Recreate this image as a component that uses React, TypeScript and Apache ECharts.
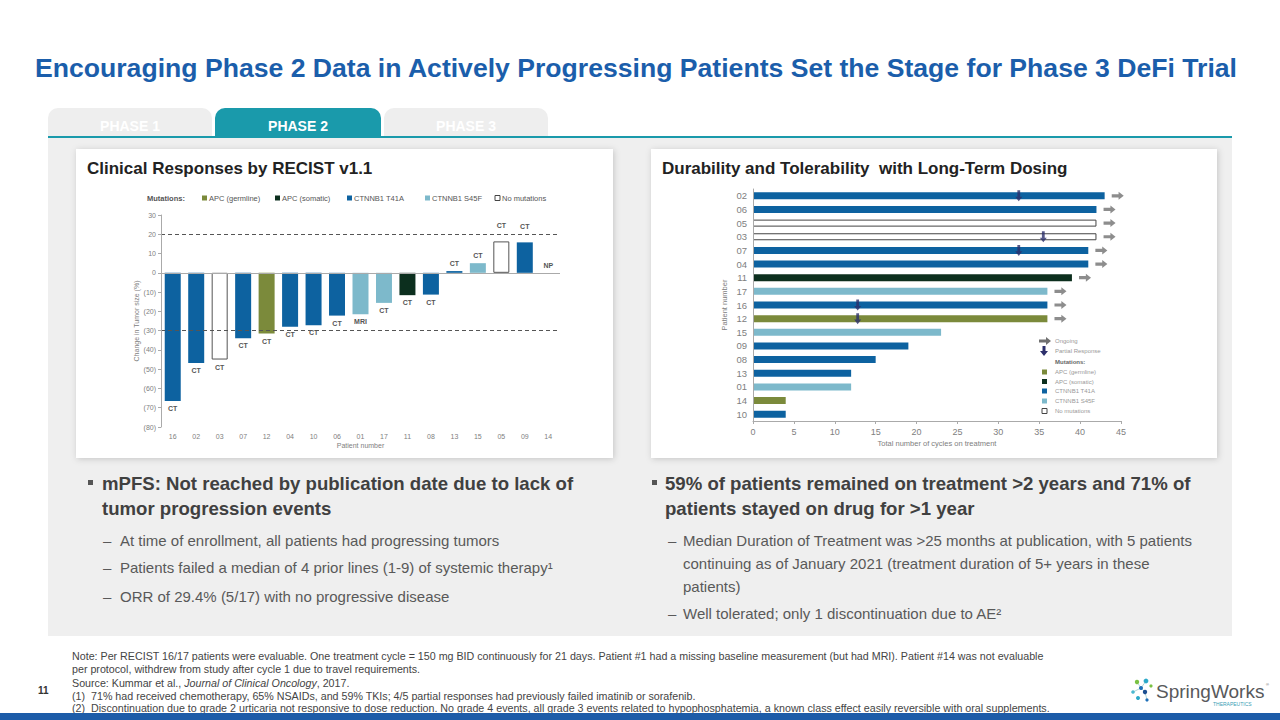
import React, { useEffect, useRef } from "react";
import * as echarts from "echarts";

// ---------- Data ----------
const waterfallPatients = ["16", "02", "03", "07", "12", "04", "10", "06", "01", "17", "11", "08", "13", "15", "05", "09", "14"];
const waterfallChange = [-66.5, -46.8, -45, -34, -31.5, -28, -27.2, -22.2, -21.5, -15.6, -11.6, -11.3, 0.9, 5, 16.3, 15.8, 0];
const waterfallMutation = ["T41A", "T41A", "None", "T41A", "Germline", "T41A", "T41A", "T41A", "S45F", "S45F", "Somatic", "T41A", "T41A", "S45F", "None", "T41A", "NA"];
const waterfallScan = ["CT", "CT", "CT", "CT", "CT", "CT", "CT", "CT", "MRI", "CT", "CT", "CT", "CT", "CT", "CT", "CT", "NP"];
const waterfallRefLines = [20, -30];

const durationPatients = ["02", "06", "05", "03", "07", "04", "11", "17", "16", "12", "15", "09", "08", "13", "01", "14", "10"];
const durationCycles = [43, 42, 42, 42, 41, 41, 39, 36, 36, 36, 23, 19, 15, 12, 12, 4, 4];
const durationMutation = ["T41A", "T41A", "None", "None", "T41A", "T41A", "Somatic", "S45F", "T41A", "Germline", "S45F", "T41A", "T41A", "T41A", "S45F", "Germline", "T41A"];
const durationOngoing = [true, true, true, true, true, true, true, true, true, true, false, false, false, false, false, false, false];
const durationPartialResponse: (number | null)[] = [32.5, null, null, 35.5, 32.5, null, null, null, 12.8, 12.8, null, null, null, null, null, null, null];

const mutationLegend = [
  { key: "Germline", name: "APC (germline)" },
  { key: "Somatic", name: "APC (somatic)" },
  { key: "T41A", name: "CTNNB1 T41A" },
  { key: "S45F", name: "CTNNB1 S45F" },
  { key: "None", name: "No mutations" },
];

const COLORS: Record<string, string> = {
  T41A: "#0d62a0",
  S45F: "#7db9cb",
  Germline: "#7b8a3b",
  Somatic: "#0c2f1e",
  None: "#ffffff",
  NA: "rgba(0,0,0,0)",
};

const FONT = "'Liberation Sans', Arial, Helvetica, sans-serif";
const TEAL = "#1a9aab";

const txt = (x: number, y: number, text: string, s: any = {}) => ({
  type: "text",
  x,
  y,
  silent: true,
  z: 10,
  style: { text, fontFamily: FONT, fontSize: 12, fill: "#444", align: "left", verticalAlign: "middle", ...s },
});

export default function App() {
  const ref = useRef<HTMLDivElement>(null);

  useEffect(() => {
    document.body.style.margin = "0";
    const chart = echarts.init(ref.current!, undefined, { renderer: "svg" });

    const graphics: any[] = [];
    // Title
    graphics.push(txt(636, 68, "Encouraging Phase 2 Data in Actively Progressing Patients Set the Stage for Phase 3 DeFi Trial", {
      fontSize: 26.6, fontWeight: "bold", fill: "#1b5eab", align: "center",
    }));
    // Tabs
    const tabs = [
      { x: 48, w: 164, label: "PHASE 1", fill: "#eeeeee" },
      { x: 215, w: 166, label: "PHASE 2", fill: TEAL },
      { x: 384, w: 164, label: "PHASE 3", fill: "#eeeeee" },
    ];
    tabs.forEach((t) => {
      graphics.push({ type: "rect", silent: true, z: 0, shape: { x: t.x, y: 108, width: t.w, height: 30, r: [10, 10, 0, 0] }, style: { fill: t.fill } });
      graphics.push(txt(t.x + t.w / 2, 126, t.label, { fontSize: 14, fontWeight: "bold", fill: "#ffffff", align: "center" }));
    });
    // Panel
    graphics.push({ type: "rect", silent: true, z: 0, shape: { x: 48, y: 137, width: 1184, height: 499 }, style: { fill: "#efefef" } });
    graphics.push({ type: "rect", silent: true, z: 1, shape: { x: 48, y: 136, width: 1184, height: 2 }, style: { fill: TEAL } });
    // Cards
    [
      { x: 76, w: 537 },
      { x: 651, w: 566 },
    ].forEach((c) => {
      graphics.push({
        type: "rect", silent: true, z: 1,
        shape: { x: c.x, y: 149, width: c.w, height: 309 },
        style: { fill: "#ffffff", shadowBlur: 6, shadowColor: "rgba(0,0,0,0.18)", shadowOffsetX: 1, shadowOffsetY: 1 },
      });
    });
    graphics.push(txt(87, 168, "Clinical Responses by RECIST v1.1", { fontSize: 17, fontWeight: "bold", fill: "#222" }));
    graphics.push(txt(662, 168, "Durability and Tolerability  with Long-Term Dosing", { fontSize: 17, fontWeight: "bold", fill: "#222" }));

    // Left legend
    graphics.push(txt(147, 198, "Mutations:", { fontSize: 7.5, fontWeight: "bold", fill: "#555" }));
    const lx = [202, 275, 347, 425, 495];
    mutationLegend.forEach((m, i) => {
      graphics.push({
        type: "rect", silent: true, z: 10,
        shape: { x: lx[i], y: 195.5, width: 5, height: 5 },
        style: { fill: COLORS[m.key], stroke: m.key === "None" ? "#444" : null, lineWidth: 1 },
      });
      graphics.push(txt(lx[i] + 7, 198, m.name, { fontSize: 7.5, fill: "#555" }));
    });

    // Right legend
    graphics.push({
      type: "polygon", silent: true, z: 10,
      shape: { points: [[1039, 339.5], [1046, 339.5], [1046, 337], [1051, 341], [1046, 345], [1046, 342.5], [1039, 342.5]] },
      style: { fill: "#707070" },
    });
    graphics.push(txt(1055, 341, "Ongoing", { fontSize: 6, fill: "#999" }));
    graphics.push({
      type: "polygon", silent: true, z: 10,
      shape: { points: [[1042.5, 346], [1045.5, 346], [1045.5, 351], [1048, 351], [1044, 356], [1040, 351], [1042.5, 351]] },
      style: { fill: "#2c2f6b" },
    });
    graphics.push(txt(1055, 351, "Partial Response", { fontSize: 6, fill: "#999" }));
    graphics.push(txt(1055, 362, "Mutations:", { fontSize: 6, fontWeight: "bold", fill: "#666" }));
    const ly = [372, 381.5, 391, 401, 411];
    mutationLegend.forEach((m, i) => {
      graphics.push({
        type: "rect", silent: true, z: 10,
        shape: { x: 1042, y: ly[i] - 2.5, width: 5, height: 5 },
        style: { fill: COLORS[m.key], stroke: m.key === "None" ? "#444" : null, lineWidth: 1 },
      });
      graphics.push(txt(1055, ly[i], m.name, { fontSize: 6, fill: "#999" }));
    });

    // Bullets
    const boldS = { fontSize: 18.6, fontWeight: "bold", fill: "#404040" };
    const subS = { fontSize: 15, fill: "#595959" };
    graphics.push({ type: "rect", silent: true, z: 10, shape: { x: 88, y: 480, width: 5, height: 5 }, style: { fill: "#555" } });
    graphics.push(txt(102, 483, "mPFS: Not reached by publication date due to lack of", boldS));
    graphics.push(txt(102, 508, "tumor progression events", boldS));
    graphics.push(txt(103, 540, "–", subS));
    graphics.push(txt(120, 540, "At time of enrollment, all patients had progressing tumors", subS));
    graphics.push(txt(103, 567, "–", subS));
    graphics.push(txt(120, 567, "Patients failed a median of 4 prior lines (1-9) of systemic therapy¹", subS));
    graphics.push(txt(103, 596, "–", subS));
    graphics.push(txt(120, 596, "ORR of 29.4% (5/17) with no progressive disease", subS));

    graphics.push({ type: "rect", silent: true, z: 10, shape: { x: 652, y: 480, width: 5, height: 5 }, style: { fill: "#555" } });
    graphics.push(txt(665, 483, "59% of patients remained on treatment >2 years and 71% of", boldS));
    graphics.push(txt(665, 508, "patients stayed on drug for >1 year", boldS));
    graphics.push(txt(668, 540, "–", subS));
    graphics.push(txt(683, 540, "Median Duration of Treatment was >25 months at publication, with 5 patients", subS));
    graphics.push(txt(683, 563, "continuing as of January 2021 (treatment duration of 5+ years in these", subS));
    graphics.push(txt(683, 586, "patients)", subS));
    graphics.push(txt(668, 613, "–", subS));
    graphics.push(txt(683, 613, "Well tolerated; only 1 discontinuation due to AE²", subS));

    // Footnotes
    const fS = { fontSize: 10.7, fill: "#444" };
    graphics.push(txt(72, 656, "Note: Per RECIST 16/17 patients were evaluable. One treatment cycle = 150 mg BID continuously for 21 days. Patient #1 had a missing baseline measurement (but had MRI). Patient #14 was not evaluable", fS));
    graphics.push(txt(72, 669, "per protocol, withdrew from study after cycle 1 due to travel requirements.", fS));
    graphics.push({
      type: "text", x: 72, y: 683, silent: true, z: 10,
      style: {
        text: "{a|Source: Kummar et al., }{i|Journal of Clinical Oncology}{a|, 2017.}",
        verticalAlign: "middle",
        rich: {
          a: { fontFamily: FONT, fontSize: 10.7, fill: "#444", color: "#444" },
          i: { fontFamily: FONT, fontSize: 10.7, fill: "#444", color: "#444", fontStyle: "italic" },
        },
      },
    });
    graphics.push(txt(72, 696, "(1)  71% had received chemotherapy, 65% NSAIDs, and 59% TKIs; 4/5 partial responses had previously failed imatinib or sorafenib.", fS));
    graphics.push(txt(72, 708, "(2)  Discontinuation due to grade 2 urticaria not responsive to dose reduction. No grade 4 events, all grade 3 events related to hypophosphatemia, a known class effect easily reversible with oral supplements.", fS));
    graphics.push(txt(38, 690, "11", { fontSize: 10, fontWeight: "bold", fill: "#333" }));

    // Bottom bar
    graphics.push({ type: "rect", silent: true, z: 10, shape: { x: 0, y: 713, width: 1280, height: 7 }, style: { fill: "#1d5ca8" } });

    // Logo
    const dots = [
      [1137, 682, 2.2, "#7ac143"], [1146, 681, 2.4, "#2aa9c9"], [1141, 688, 2.0, "#1d6fb8"],
      [1133, 692, 1.8, "#4bb8d0"], [1145, 692, 2.2, "#1d4f91"], [1151, 686, 1.6, "#7ac143"],
      [1138, 698, 2.0, "#2aa9c9"], [1147, 700, 1.6, "#1d6fb8"],
    ];
    graphics.push({ type: "polyline", silent: true, z: 10, shape: { points: [[1137, 682], [1141, 688], [1145, 692], [1147, 700]] }, style: { stroke: "#9cc", lineWidth: 0.8, fill: null } });
    graphics.push({ type: "polyline", silent: true, z: 10, shape: { points: [[1146, 681], [1141, 688], [1133, 692]] }, style: { stroke: "#9cc", lineWidth: 0.8, fill: null } });
    dots.forEach((d) => graphics.push({ type: "circle", silent: true, z: 11, shape: { cx: d[0], cy: d[1], r: d[2] }, style: { fill: d[3] } }));
    graphics.push(txt(1156, 691, "SpringWorks", { fontSize: 19, fill: "#58595b" }));
    graphics.push(txt(1266, 684, "®", { fontSize: 4, fill: "#58595b" }));
    graphics.push(txt(1213, 704, "THERAPEUTICS", { fontSize: 5, fill: "#3aa0b6" }));

    const axisGray = "#aaaaaa";
    const labelGray = "#808080";

    const option: any = {
      animation: false,
      textStyle: { fontFamily: FONT },
      graphic: { elements: graphics },
      grid: [
        { left: 161, top: 215, width: 399, height: 212 },
        { left: 753, top: 189, width: 368, height: 232 },
      ],
      xAxis: [
        {
          type: "category", gridIndex: 0, data: waterfallPatients, z: 5,
          axisLine: { show: false }, axisTick: { show: false },
          axisLabel: { fontSize: 7, color: labelGray, margin: 6, interval: 0 },
          name: "Patient number", nameLocation: "middle", nameGap: 15,
          nameTextStyle: { fontSize: 7, color: labelGray },
        },
        {
          type: "value", gridIndex: 1, min: 0, max: 45, interval: 5, z: 5,
          axisLine: { show: true, lineStyle: { color: axisGray } },
          axisTick: { show: true, length: 3, lineStyle: { color: axisGray } },
          splitLine: { show: false },
          axisLabel: { fontSize: 9, color: labelGray, margin: 6 },
          name: "Total number of cycles on treatment", nameLocation: "middle", nameGap: 18,
          nameTextStyle: { fontSize: 7.5, color: labelGray },
        },
      ],
      yAxis: [
        {
          type: "value", gridIndex: 0, min: -80, max: 30, interval: 10, z: 5,
          axisLine: { show: true, lineStyle: { color: axisGray } },
          axisTick: { show: true, length: 3, lineStyle: { color: axisGray } },
          splitLine: { show: false },
          axisLabel: { fontSize: 7, color: labelGray, margin: 5, formatter: (v: number) => (v < 0 ? `(${-v})` : `${v}`) },
          name: "Change in Tumor size (%)", nameLocation: "middle", nameGap: 21, nameRotate: 90,
          nameTextStyle: { fontSize: 7, color: labelGray },
        },
        {
          type: "category", gridIndex: 1, data: durationPatients, inverse: true, z: 5,
          axisLine: { show: true, lineStyle: { color: axisGray } },
          axisTick: { show: false },
          axisLabel: { fontSize: 9.5, color: labelGray, margin: 6, interval: 0 },
          name: "Patient number", nameLocation: "middle", nameGap: 25, nameRotate: 90,
          nameTextStyle: { fontSize: 7.5, color: labelGray },
        },
      ],
      series: [
        {
          type: "bar", xAxisIndex: 0, yAxisIndex: 0, barWidth: 16, z: 3,
          data: waterfallChange.map((v, i) => {
            const m = waterfallMutation[i];
            return {
              value: v,
              itemStyle: {
                color: COLORS[m],
                borderColor: m === "None" ? "#555" : COLORS[m],
                borderWidth: m === "None" ? 1 : 0,
              },
              label: {
                show: true,
                position: v < 0 ? "bottom" : "top",
                distance: v > 10 ? 12 : 4,
                formatter: waterfallScan[i],
                fontSize: 7,
                fontWeight: "bold",
                color: "#555",
              },
            };
          }),
          markLine: {
            silent: true,
            symbol: ["none", "none"],
            label: { show: false },
            data: [
              { yAxis: 0, lineStyle: { type: "solid", color: axisGray, width: 1 } },
              ...waterfallRefLines.map((y) => ({ yAxis: y, lineStyle: { type: [4, 3], color: "#555", width: 1 } })),
            ],
          },
        },
        {
          type: "bar", xAxisIndex: 1, yAxisIndex: 1, barWidth: 7, z: 3,
          data: durationCycles.map((v, i) => {
            const m = durationMutation[i];
            return {
              value: v,
              itemStyle: {
                color: COLORS[m],
                borderColor: m === "None" ? "#444" : COLORS[m],
                borderWidth: m === "None" ? 1 : 0,
              },
            };
          }),
        },
        {
          type: "scatter", xAxisIndex: 1, yAxisIndex: 1, z: 6,
          symbol: "path://M0,3L8,3L8,0L14,5L8,10L8,7L0,7Z",
          symbolSize: [12, 8],
          itemStyle: { color: "#707070" },
          data: durationPatients
            .map((p, i) => (durationOngoing[i] ? [durationCycles[i] + 1.6, p] : null))
            .filter((d) => d !== null),
        },
        {
          type: "scatter", xAxisIndex: 1, yAxisIndex: 1, z: 7,
          symbol: "path://M3,0L7,0L7,7L10,7L5,12L0,7L3,7Z",
          symbolSize: [7, 11],
          itemStyle: { color: "#2c2f6b" },
          data: durationPatients
            .map((p, i) => (durationPartialResponse[i] !== null ? [durationPartialResponse[i], p] : null))
            .filter((d) => d !== null),
        },
      ],
    };

    chart.setOption(option);
    return () => chart.dispose();
  }, []);

  return <div ref={ref} style={{ width: 1280, height: 720 }} />;
}
